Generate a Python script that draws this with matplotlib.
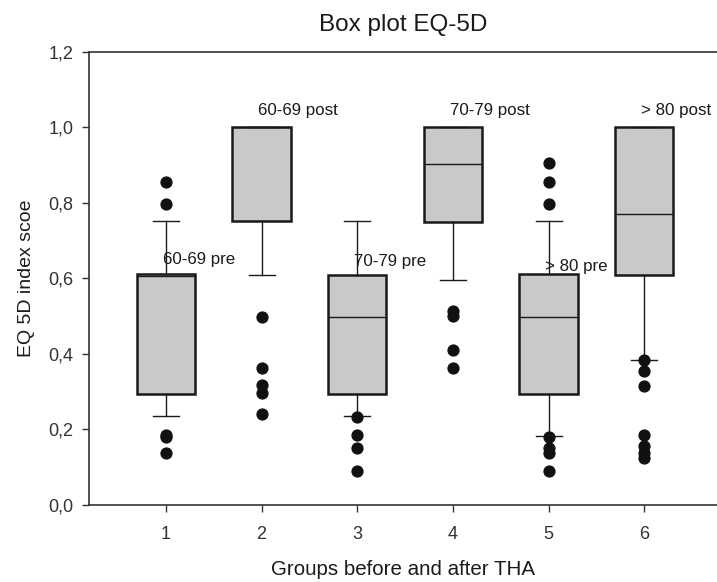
import matplotlib.pyplot as plt
import numpy as np

plt.rcParams['font.family'] = ['Liberation Sans', 'DejaVu Sans']

# box statistics
groups = [1, 2, 3, 4, 5, 6]
q1 = [0.294, 0.751, 0.294, 0.749, 0.294, 0.608]
med = [0.607, 1.0, 0.498, 0.904, 0.498, 0.772]
q3 = [0.613, 1.0, 0.608, 1.0, 0.613, 1.0]
whislo = [0.237, 0.608, 0.237, 0.597, 0.184, 0.385]
whishi = [0.751, 1.0, 0.751, 1.0, 0.751, 1.0]
fliers = [
    [0.856, 0.798, 0.186, 0.180, 0.137],
    [0.498, 0.363, 0.319, 0.297, 0.241],
    [0.234, 0.186, 0.152, 0.090],
    [0.513, 0.500, 0.411, 0.363],
    [0.905, 0.856, 0.797, 0.181, 0.152, 0.139, 0.090],
    [0.385, 0.354, 0.316, 0.186, 0.155, 0.139, 0.124],
]
labels = ["60-69 pre", "60-69 post", "70-79 pre", "70-79 post", "> 80 pre", "> 80 post"]
label_y = [0.65, 1.046, 0.645, 1.046, 0.633, 1.046]

stats = []
for i in range(len(groups)):
    stats.append(dict(q1=q1[i], med=med[i], q3=q3[i], whislo=whislo[i],
                      whishi=whishi[i], fliers=fliers[i]))

fig = plt.figure(figsize=(7.17, 5.82), dpi=100)
ax = fig.add_axes([0.124, 0.1323, 0.876, 0.7784])

ax.bxp(stats, positions=groups, widths=0.61, capwidths=0.27, patch_artist=True,
       boxprops=dict(facecolor='#c8c9cb', edgecolor='#1a1a1a', linewidth=1.8),
       medianprops=dict(color='#1a1a1a', linewidth=1.0),
       whiskerprops=dict(color='#1a1a1a', linewidth=1.0),
       capprops=dict(color='#1a1a1a', linewidth=1.0),
       flierprops=dict(marker='o', markerfacecolor='#111111', markeredgecolor='#111111',
                       markersize=7.8))

for i in range(len(groups)):
    ax.text(groups[i] - 0.035, label_y[i], labels[i], fontsize=12.2, ha='left', va='center',
            color='#1a1a1a')

ax.set_xlim(0.195, 6.76)
ax.set_ylim(0, 1.2)
ax.set_xticks(groups)
ax.set_xticklabels([str(g) for g in groups])
ax.set_yticks(np.arange(0, 1.21, 0.2))
ax.set_yticklabels(['0,0', '0,2', '0,4', '0,6', '0,8', '1,0', '1,2'])
ax.tick_params(direction='out', length=5, labelsize=13, colors='#333333', width=1)
ax.tick_params(axis='x', pad=10)
ax.tick_params(axis='y', pad=6)
ax.spines['right'].set_visible(False)
for s in ['left', 'top', 'bottom']:
    ax.spines[s].set_color('#333333')
    ax.spines[s].set_linewidth(1.2)

ax.set_title("Box plot EQ-5D", fontsize=17.5, pad=15, color='#1a1a1a')
ax.set_xlabel("Groups before and after THA", fontsize=14.8, labelpad=12, color='#1a1a1a')
ax.set_ylabel("EQ 5D index scoe", fontsize=14, labelpad=10, color='#1a1a1a')

fig.savefig("out.png", dpi=100)
